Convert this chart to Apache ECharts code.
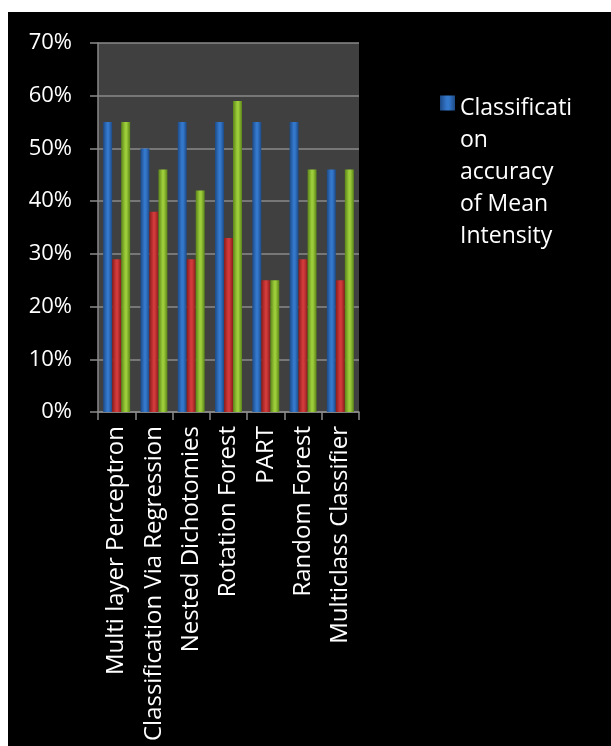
<!DOCTYPE html>
<html><head><meta charset="utf-8">
<script src="https://cdn.jsdelivr.net/npm/echarts@6/dist/echarts.min.js"></script>
<style>
html,body{margin:0;padding:0;background:#fff;width:611px;height:746px;overflow:hidden}
#c{position:absolute;left:8px;top:12px;width:603px;height:734px;}
</style>
</head><body><div id="c"></div>
<script>
const categories = ['Multi layer Perceptron', 'Classification Via Regression', 'Nested Dichotomies', 'Rotation Forest', 'PART', 'Random Forest', 'Multiclass Classifier'];
const seriesNames = ['Classification accuracy of Mean Intensity', 'Series 2', 'Series 3'];
const blueValues = [0.55, 0.50, 0.55, 0.55, 0.55, 0.55, 0.46];
const redValues = [0.29, 0.38, 0.29, 0.33, 0.25, 0.29, 0.25];
const greenValues = [0.55, 0.46, 0.42, 0.59, 0.25, 0.46, 0.46];
const yTicks = ['0%', '10%', '20%', '30%', '40%', '50%', '60%', '70%'];
const legendLines = ['Classificati', 'on', 'accuracy', 'of Mean', 'Intensity'];

const FONT = 'Open Sans';
function grad(edge, mid) {
  return new echarts.graphic.LinearGradient(0, 0, 1, 0, [
    {offset: 0, color: edge}, {offset: 0.45, color: mid}, {offset: 0.6, color: mid}, {offset: 1, color: edge}
  ]);
}
const colors = [grad('#1d4a86', '#3478cc'), grad('#8a1c1c', '#d03a3a'), grad('#5a8419', '#9ccc3a')];
const values = [blueValues, redValues, greenValues];
const LH = 32;
const legendH = LH * legendLines.length;

const chart = echarts.init(document.getElementById('c'), null, {renderer: 'canvas'});
chart.setOption({
  backgroundColor: '#000',
  animation: false,
  grid: {left: 90, top: 31, width: 261, height: 369, show: true, backgroundColor: '#404040', borderWidth: 0},
  legend: {
    data: [seriesNames[0]],
    left: 432, top: 80, padding: 0,
    itemWidth: 15, itemHeight: legendH,
    icon: 'path://M0,7L15,7L15,22L0,22Z M0,' + legendH + 'L0.01,' + legendH + 'L0.01,' + (legendH - 0.01) + 'Z',
    formatter: () => legendLines.join('\n'),
    textStyle: {color: '#fff', fontFamily: FONT, fontSize: 23, lineHeight: LH}
  },
  xAxis: {
    type: 'category', data: categories,
    axisLine: {lineStyle: {color: '#8a8a8a', width: 1.5}},
    axisTick: {show: true, length: 8, lineStyle: {color: '#8a8a8a', width: 1.5}},
    axisLabel: {rotate: 90, color: '#fff', fontFamily: FONT, fontSize: 24, margin: 14, interval: 0}
  },
  yAxis: {
    type: 'value', min: 0, max: 0.7, interval: 0.1,
    axisLine: {show: true, lineStyle: {color: '#8a8a8a', width: 1.5}},
    axisTick: {show: true, length: 8, lineStyle: {color: '#8a8a8a', width: 1.5}},
    splitLine: {lineStyle: {color: '#8a8a8a', width: 1.5}},
    axisLabel: {color: '#fff', fontFamily: FONT, fontSize: 22, margin: 26,
      formatter: v => yTicks[Math.round(v * 10)]}
  },
  series: values.map((vals, i) => ({
    name: seriesNames[i], type: 'bar', data: vals,
    barWidth: 9, barGap: '0%',
    itemStyle: {color: colors[i]}
  }))
});
</script></body></html>
